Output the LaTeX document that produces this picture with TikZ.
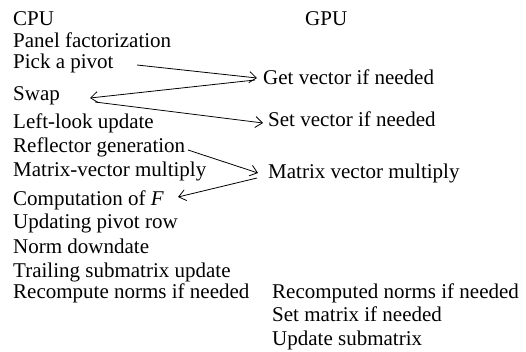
\documentclass[tikz,border=0pt]{standalone}
\usepackage{fontspec}
\setmainfont{Liberation Serif}
\usetikzlibrary{arrows.meta}

\tikzset{
  lbl/.style={anchor=base west, inner sep=0pt, font=\fontsize{21}{24}\selectfont},
  flow/.style={line width=0.8pt, -{Straight Barb[length=7pt,width=11pt,line width=0.8pt]}}
}

\begin{document}
\begin{tikzpicture}[x=1pt, y=-1pt]

\useasboundingbox (0,0) rectangle (526,351);

% CPU side
\node[lbl] (cpu)     at (13, 25)  {CPU};
\node[lbl] (panel)   at (13, 47)  {Panel factorization};
\node[lbl] (pick)    at (13, 68)  {Pick a pivot};
\node[lbl] (swap)    at (13, 100) {Swap};
\node[lbl] (left)    at (13, 128) {Left-look update};
\node[lbl] (refl)    at (13, 152) {Reflector generation};
\node[lbl] (mvcpu)   at (13, 176) {Matrix-vector multiply};
\node[lbl] (compf)   at (13, 205) {Computation of \textit{F}};
\node[lbl] (pivrow)  at (13, 228) {Updating pivot row};
\node[lbl] (normdd)  at (13, 253) {Norm downdate};
\node[lbl] (trail)   at (13, 277) {Trailing submatrix update};
\node[lbl] (recomp)  at (13, 298) {Recompute norms if needed};

% GPU side
\node[lbl] (gpu)     at (305, 25)  {GPU};
\node[lbl] (getvec)  at (263, 84)  {Get vector if needed};
\node[lbl] (setvec)  at (268, 126) {Set vector if needed};
\node[lbl] (mvgpu)   at (268, 178) {Matrix vector multiply};
\node[lbl] (recgpu)  at (272, 298) {Recomputed norms if needed};
\node[lbl] (setmat)  at (272, 321) {Set matrix if needed};
\node[lbl] (updsub)  at (272, 345) {Update submatrix};

% Transfers
\draw[flow] ([xshift=124pt,yshift=3pt]pick.base west) -- ([xshift=-6pt,yshift=6pt]getvec.base west);
\draw[flow] ([xshift=-8pt,yshift=4pt]getvec.base west) -- ([xshift=77pt,yshift=2pt]swap.base west);
\draw[flow] ([xshift=82pt,yshift=-2pt]swap.base west) -- ([xshift=-5pt,yshift=3pt]setvec.base west);
\draw[flow] ([xshift=175pt,yshift=2pt]refl.base west) -- ([xshift=-10pt,yshift=5pt]mvgpu.base west);
\draw[flow] ([xshift=-11pt]mvgpu.base west) -- ([xshift=165pt,yshift=8pt]compf.base west);

\end{tikzpicture}
\end{document}
